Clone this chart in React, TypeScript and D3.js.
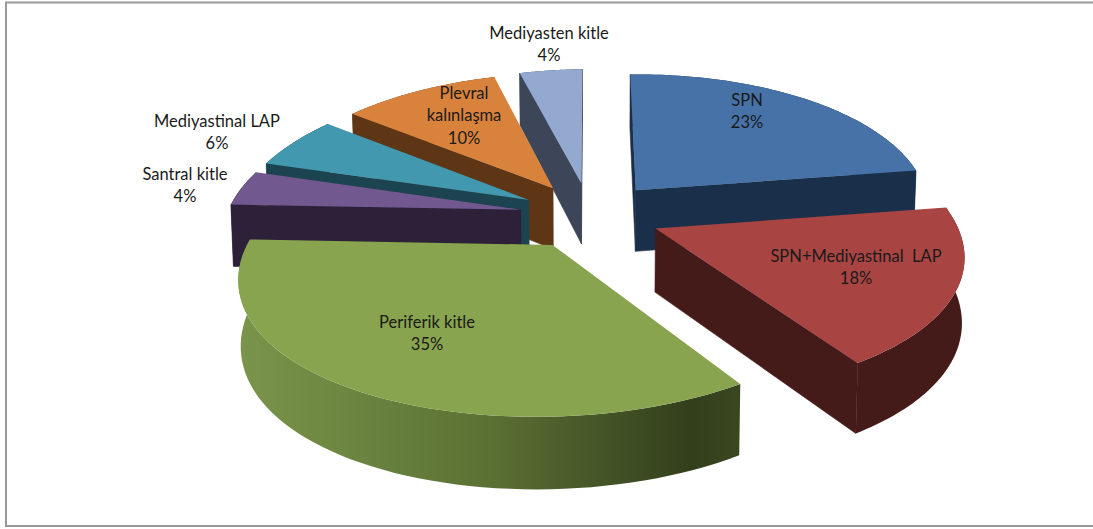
import * as d3 from 'd3';

const categories = ['SPN', 'SPN+Mediyastinal  LAP', 'Periferik kitle', 'Santral kitle', 'Mediyastinal LAP', 'Plevral kalınlaşma', 'Mediyasten kitle'];
const values = [23, 18, 35, 4, 6, 10, 4];

const topColors = ['#4672a8', '#a84442', '#88a44e', '#71588f', '#4198af', '#d9823c', '#93a9d0'];
const wallColors = ['#1a2f49', '#451b19', 'url(#greenWall)', '#2d2139', '#1c4450', '#5e3515', '#3c4658'];

// label anchor (centre x, first line centre y) and lines for each slice
const labelLines = [['SPN', '23%'], ['SPN+Mediyastinal  LAP', '18%'], ['Periferik kitle', '35%'], ['Santral kitle', '4%'], ['Mediyastinal LAP', '6%'], ['Plevral', 'kalınlaşma', '10%'], ['Mediyasten kitle', '4%']];
const labelX = [747, 856, 427, 185, 217, 464, 549];
const labelY = [100, 256, 322, 174, 121, 93, 33];

const width = 1093;
const height = 529;
const cx = 590;
const cy = 215;
const radiusX = 295.5;
const radiusY = 138.4;
const perspective = 0.141;
const nearBoost = 0.045;
const explode = 0.24;
const thickness = 62.7;
const thicknessGrow = 0.149;
const bottomScale = 0.993;
const roll = 0.012;

type Pt = [number, number];

// plane coordinates -> screen, z = 0 on the top face, z = 1 on the bottom face
function project(u: number, v: number, z = 0): Pt {
  const w = 1 / (1 + perspective * v);
  const s = z ? bottomScale : 1;
  const drop = z ? thickness * (1 - thicknessGrow * v) : 0;
  const dx = radiusX * u * w * s * (1 - nearBoost * Math.min(v, 0));
  return [cx + dx, cy - radiusY * v * w * s + drop - roll * dx];
}

const line = d3.line<Pt>();

function cross(a: Pt, b: Pt) {
  return a[0] * b[1] - a[1] * b[0];
}

export default function App() {
  const arcs = d3.pie<number>().sort(null).startAngle(0).endAngle(2 * Math.PI)(values);

  const slices = arcs.map((arc, i) => {
    const mid = (arc.startAngle + arc.endAngle) / 2;
    const ou = explode * Math.sin(mid);
    const ov = explode * Math.cos(mid);
    const angles = d3.range(0, 61).map((k) => arc.startAngle + ((arc.endAngle - arc.startAngle) * k) / 60);
    const rim = (z: number) => angles.map((a) => project(ou + Math.sin(a), ov + Math.cos(a), z));
    const apexTop = project(ou, ov, 0);
    const apexBottom = project(ou, ov, 1);
    const rimTop = rim(0);
    const rimBottom = rim(1);
    const midTop = rimTop[30];

    const facing = (p: Pt) => {
      const d: Pt = [p[0] - apexTop[0], p[1] - apexTop[1]];
      const m: Pt = [midTop[0] - apexTop[0], midTop[1] - apexTop[1]];
      return cross(d, [0, 1]) * cross(d, m) < 0;
    };

    const faces: string[] = [];
    if (facing(rimTop[0])) {
      faces.push(line([apexTop, rimTop[0], rimBottom[0], apexBottom])! + 'Z');
    }
    if (facing(rimTop[60])) {
      faces.push(line([apexTop, rimTop[60], rimBottom[60], apexBottom])! + 'Z');
    }

    return {
      key: categories[i],
      i,
      depth: ov + Math.cos(mid) * 0.5,
      top: line([apexTop, ...rimTop])! + 'Z',
      wall: line([...rimTop, ...[...rimBottom].reverse()])! + 'Z',
      faces,
    };
  });

  // far slices first
  const ordered = [...slices].sort((a, b) => b.depth - a.depth);

  return (
    <svg width={width} height={height} style={{ position: 'absolute', left: 0, top: 0, display: 'block' }}>
      <defs>
        <linearGradient id="greenWall" x1="0" x2="1" y1="0" y2="0">
          <stop offset="0" stopColor="#7a954a" />
          <stop offset="0.5" stopColor="#5b7134" />
          <stop offset="0.9" stopColor="#333f1c" />
          <stop offset="1" stopColor="#3a4720" />
        </linearGradient>
      </defs>
      <rect width={width} height={height} fill="#fff" />
      <path d={`M${width},2.5H6V526H${width}`} fill="none" stroke="#999" strokeWidth={2} />
      {ordered.map((s) => (
        <g key={s.key}>
          <path d={s.wall} fill={wallColors[s.i]} />
          {s.faces.map((d, k) => (
            <path
              key={k}
              d={d}
              fill={s.i === 2 ? '#333f1c' : wallColors[s.i]}
              stroke={s.i === 2 ? '#333f1c' : wallColors[s.i]}
              strokeWidth={0.6}
            />
          ))}
          <path d={s.top} fill={topColors[s.i]} />
        </g>
      ))}
      {labelLines.map((lines, i) => (
        <text key={i} textAnchor="middle" fontFamily="Lato, 'Open Sans', sans-serif" fontSize={16.5} fill="#1a1a1a">
          {lines.map((t, k) => (
            <tspan key={k} x={labelX[i]} y={labelY[i] + k * 22.5} dy="0.35em" style={{ whiteSpace: 'pre' }}>
              {t}
            </tspan>
          ))}
        </text>
      ))}
    </svg>
  );
}
